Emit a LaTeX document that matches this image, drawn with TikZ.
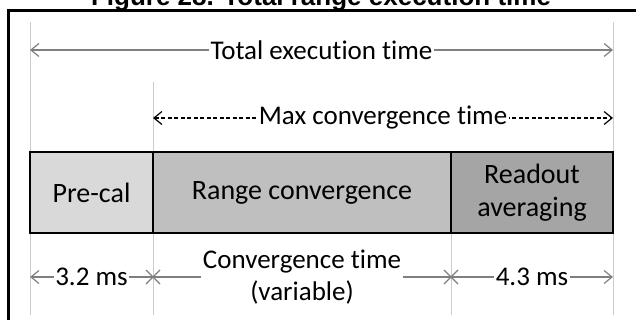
\documentclass[tikz,border=0pt]{standalone}
\usepackage{fontspec}
\setmainfont{Carlito}[Ligatures=CommonOff]
\newfontfamily\titlefont{Liberation Sans}
\usetikzlibrary{arrows.meta,positioning}
\definecolor{precal}{HTML}{D9D9D9}
\definecolor{rangeconv}{HTML}{BFBFBF}
\definecolor{readout}{HTML}{A5A5A5}
\definecolor{dimgray}{HTML}{7F7F7F}
\definecolor{guidegray}{HTML}{CCCCCC}
\tikzstyle{seg} = [rectangle, draw, line width=2pt, outer sep=0pt, inner sep=0pt,
    minimum height=81pt, align=center, font=\fontsize{28}{33}\selectfont]
\tikzstyle{lbl} = [fill=white, inner sep=1.5pt, align=center,
    font=\fontsize{27}{31.5}\selectfont]
\tikzstyle{dim} = [draw=dimgray, line width=1.2pt]
\tikzstyle{guide} = [draw=guidegray, line width=1pt]

\begin{document}
\begin{tikzpicture}[x=1pt,y=-1pt,>={Straight Barb[length=8pt,width=13pt]}]
  \useasboundingbox (0,0) rectangle (636,320);
  \node[anchor=base,font=\titlefont\bfseries\fontsize{26}{31}\selectfont] (title) at (321,6)
       {Figure 28. Total range execution time};
  \draw[line width=2.5pt] (8.5,330) |- (645,10.5);

  % guide lines
  \coordinate (g0) at (30,22);   \coordinate (h0) at (30,315);
  \coordinate (g1) at (153,82);  \coordinate (h1) at (153,315);
  \coordinate (g2) at (451,233); \coordinate (h2) at (451,315);
  \coordinate (g3) at (613,22);  \coordinate (h3) at (613,315);
  \foreach \i in {0,...,3}
    \draw[guide] (g\i) -- (h\i);

  % top arrows
  \coordinate (t0) at (30,50);  \coordinate (t3) at (613,50);
  \draw[dim,<->] (t0) -- (t3) node[lbl,midway] {Total execution time};
  \coordinate (m1) at (153,118); \coordinate (m3) at (613,118);
  \draw[<->,line width=1.2pt,dash pattern=on 4pt off 2.5pt] (m1) -- (m3)
       node[lbl,midway] {Max convergence time};

  % phases
  \node[seg,fill=precal,minimum width=123pt] (pre) at (91.5,192.5) {Pre-cal};
  \node[seg,fill=rangeconv,minimum width=298pt,right=0pt of pre] (range) {Range convergence};
  \node[seg,fill=readout,minimum width=162pt,right=0pt of range] (avg) {Readout\\averaging};

  % bottom arrows
  \coordinate (b0) at (30,277);  \coordinate (b1) at (153,277);
  \coordinate (b2) at (451,277); \coordinate (b3) at (613,277);
  \draw[dim,<-] (b0) -- (b1) node[lbl,midway] {3.2 ms};
  \draw[dim] (b1) -- (b2) node[lbl,midway] {Convergence time\\(variable)};
  \draw[dim,->] (b2) -- (b3) node[lbl,midway] {4.3 ms};
  \foreach \c in {b1,b2} {
    \draw[dim] ([shift={(-7,-7)}]\c) -- ([shift={(7,7)}]\c);
    \draw[dim] ([shift={(-7,7)}]\c) -- ([shift={(7,-7)}]\c);
  }
\end{tikzpicture}
\end{document}
